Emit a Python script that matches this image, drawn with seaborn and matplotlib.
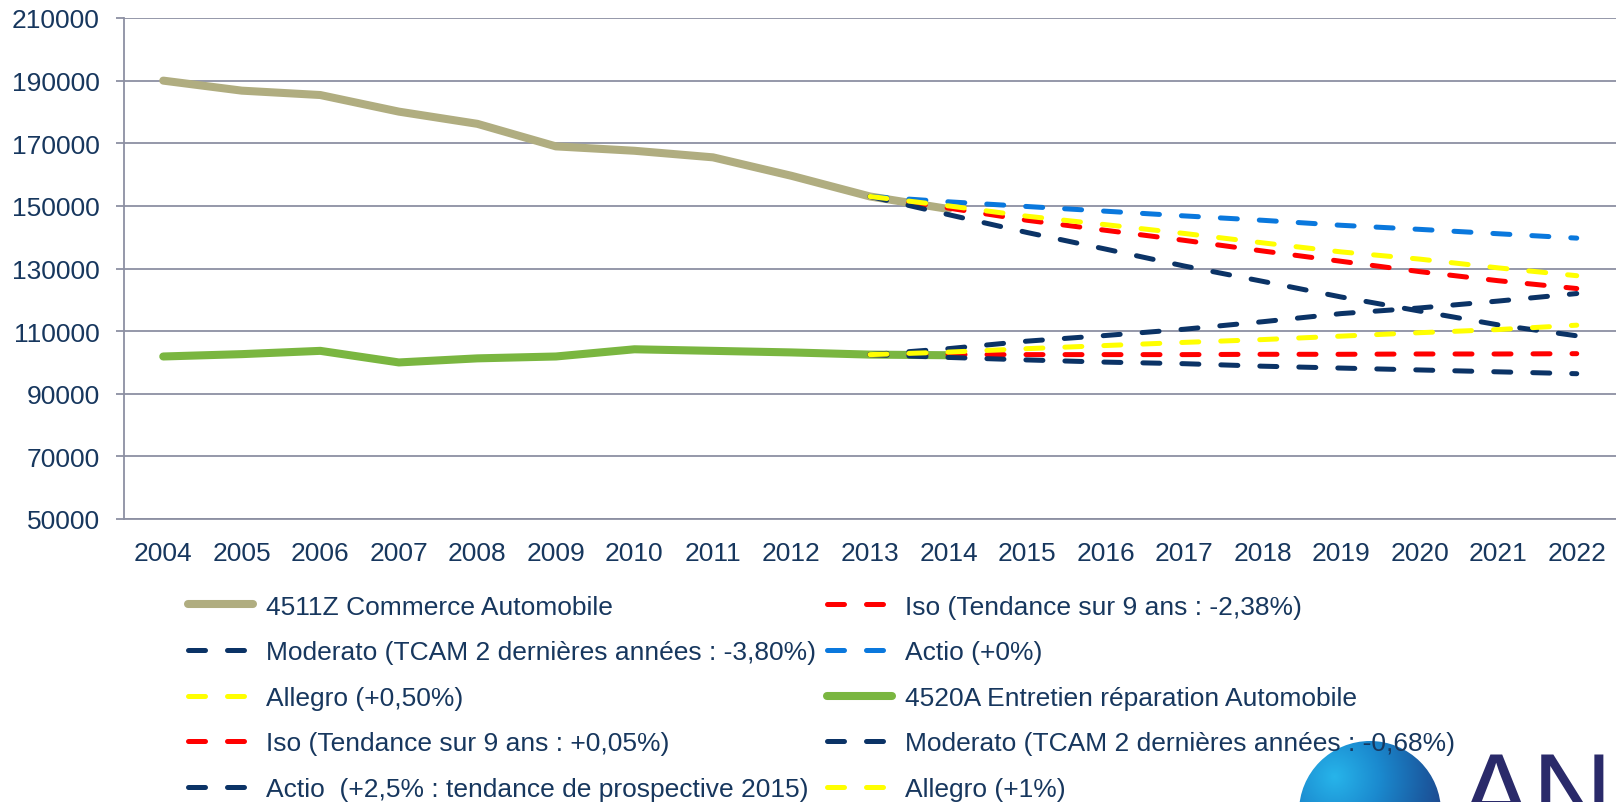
import numpy as np
import pandas as pd
import seaborn as sns
import matplotlib.pyplot as plt
from matplotlib.colors import LinearSegmentedColormap
from matplotlib.patches import Circle

# Data
years = [str(y) for y in range(2004, 2023)]
hist_years = years[:11]          # 2004 - 2014
proj_years = years[9:]           # 2013 - 2022

commerce = [190000, 186800, 185400, 180100, 176200, 169000, 167600, 165500, 159600, 153000, 149000]
entretien = [101900, 102650, 103700, 100000, 101300, 101900, 104200, 103700, 103200, 102500, 102300]

iso_up = [153000, 149300, 145400, 142200, 139000, 135600, 132300, 129000, 126100, 123600]
moderato_up = [153000, 147200, 141500, 136200, 130800, 125900, 120900, 116400, 112000, 108500]
actio_up = [153000, 151300, 149800, 148300, 146800, 145400, 143800, 142500, 141100, 139700]
allegro_up = [153000, 150000, 146700, 144000, 141200, 138200, 135300, 133000, 130200, 127700]

iso_low = [102500, 102500, 102500, 102500, 102500, 102600, 102600, 102700, 102700, 102800]
moderato_low = [102500, 101600, 100800, 100100, 99600, 98800, 98200, 97600, 97000, 96400]
actio_low = [102500, 104400, 106800, 108600, 110600, 113000, 115600, 117400, 119600, 122000]
allegro_low = [102500, 103300, 104400, 105400, 106400, 107300, 108400, 109500, 110500, 111900]

labels = [
    "4511Z Commerce Automobile",
    "Iso (Tendance sur 9 ans : -2,38%)",
    "Moderato (TCAM 2 dernières années : -3,80%)",
    "Actio (+0%)",
    "Allegro (+0,50%)",
    "4520A Entretien réparation Automobile",
    "Iso (Tendance sur 9 ans : +0,05%)",
    "Moderato (TCAM 2 dernières années : -0,68%)",
    "Actio  (+2,5% : tendance de prospective 2015)",
    "Allegro (+1%)",
]

TAN = "#B0AD80"
GREEN = "#7AB640"
NAVY = "#0B3366"
BLUE = "#0A78DD"
RED = "#FF0000"
YELLOW = "#FFFF00"
TEXT = "#17375E"
GRID = "#8C90A2"
FS = 19

series = [
    (hist_years, commerce, TAN, True),
    (proj_years, iso_up, RED, False),
    (proj_years, moderato_up, NAVY, False),
    (proj_years, actio_up, BLUE, False),
    (proj_years, allegro_up, YELLOW, False),
    (hist_years, entretien, GREEN, True),
    (proj_years, iso_low, RED, False),
    (proj_years, moderato_low, NAVY, False),
    (proj_years, actio_low, NAVY, False),
    (proj_years, allegro_low, YELLOW, False),
]

sns.set_style("white")
plt.rcParams["font.family"] = ["Liberation Sans", "DejaVu Sans"]

fig = plt.figure(figsize=(16.16, 8.03), dpi=100)
ax = fig.add_axes([124 / 1616, 1 - 520 / 803, 1 - 124 / 1616, (520 - 19) / 803])

for (yrs, vals, color, solid), label in zip(series, labels):
    df = pd.DataFrame({"pos": [years.index(y) for y in yrs], "value": vals})
    if solid:
        sns.lineplot(data=df, x="pos", y="value", ax=ax, color=color, linewidth=5.8,
                     solid_capstyle="round", solid_joinstyle="round", label=label)
    else:
        sns.lineplot(data=df, x="pos", y="value", ax=ax, color=color, linewidth=3.6,
                     linestyle=(0, (3.4, 4.4)), dash_capstyle="round", label=label)

if ax.get_legend() is not None:
    ax.get_legend().remove()

# axes styling
ax.set_xlim(-0.5, len(years) - 0.5)
ax.set_ylim(50000, 210000)
ax.set_yticks(range(50000, 210001, 20000))
ax.set_xticks(range(len(years)))
ax.set_xticklabels(years)
ax.set_xticks(np.arange(-0.5, len(years), 1), minor=True)
ax.set_xlabel("")
ax.set_ylabel("")
ax.grid(axis="y", color=GRID, linewidth=1.3)
ax.grid(axis="x", visible=False)
ax.set_axisbelow(True)
for side in ["top", "right"]:
    ax.spines[side].set_visible(False)
for side in ["left", "bottom"]:
    ax.spines[side].set_color(GRID)
    ax.spines[side].set_linewidth(1.3)
ax.tick_params(axis="x", which="major", length=0, pad=15.5, labelsize=FS, labelcolor=TEXT)
ax.tick_params(axis="x", which="minor", length=6, width=1.3, color=GRID, direction="out")
ax.tick_params(axis="y", length=5.8, width=1.3, color=GRID, pad=11.5, labelsize=FS,
               labelcolor=TEXT, left=True)

# legend, two columns filled row by row
handles, _ = ax.get_legend_handles_labels()
leg_kw = dict(loc="upper left", frameon=False, fontsize=FS, labelcolor=TEXT,
              labelspacing=0.82, handlelength=2.45, handletextpad=0.5,
              borderpad=0, borderaxespad=0)
fig.legend(handles[0::2], labels[0::2], bbox_to_anchor=(188 / 1616, 0.2584), **leg_kw)

# logo sphere (partially cut at the bottom)
lax = fig.add_axes([1299 / 1616, 1 - 884 / 803, 142 / 1616, 142 / 803], zorder=1)
gx, gy = np.meshgrid(np.linspace(0, 1, 200), np.linspace(1, 0, 200))
shade = np.clip(np.sqrt((gx - 0.25) ** 2 + (gy - 0.75) ** 2) / 0.95, 0, 1)
cmap = LinearSegmentedColormap.from_list("sphere", ["#27B4EA", "#1B8ACF", "#1A5DA3", "#25357A"])
im = lax.imshow(shade, cmap=cmap, extent=[0, 1, 0, 1], origin="upper")
circ = Circle((0.5, 0.5), 0.5, transform=lax.transData)
im.set_clip_path(circ)
lax.set_xlim(0, 1)
lax.set_ylim(0, 1)
lax.axis("off")
fig.text(1459 / 1616, 1 - 832 / 803, "AN", fontsize=80, color="#2A2A6A",
         fontfamily=["Liberation Sans", "DejaVu Sans"], ha="left", va="baseline")

leg2 = fig.legend(handles[1::2], labels[1::2], bbox_to_anchor=(827 / 1616, 0.2584), **leg_kw)
leg2.set_zorder(6)

fig.savefig("out.png", dpi=100)
